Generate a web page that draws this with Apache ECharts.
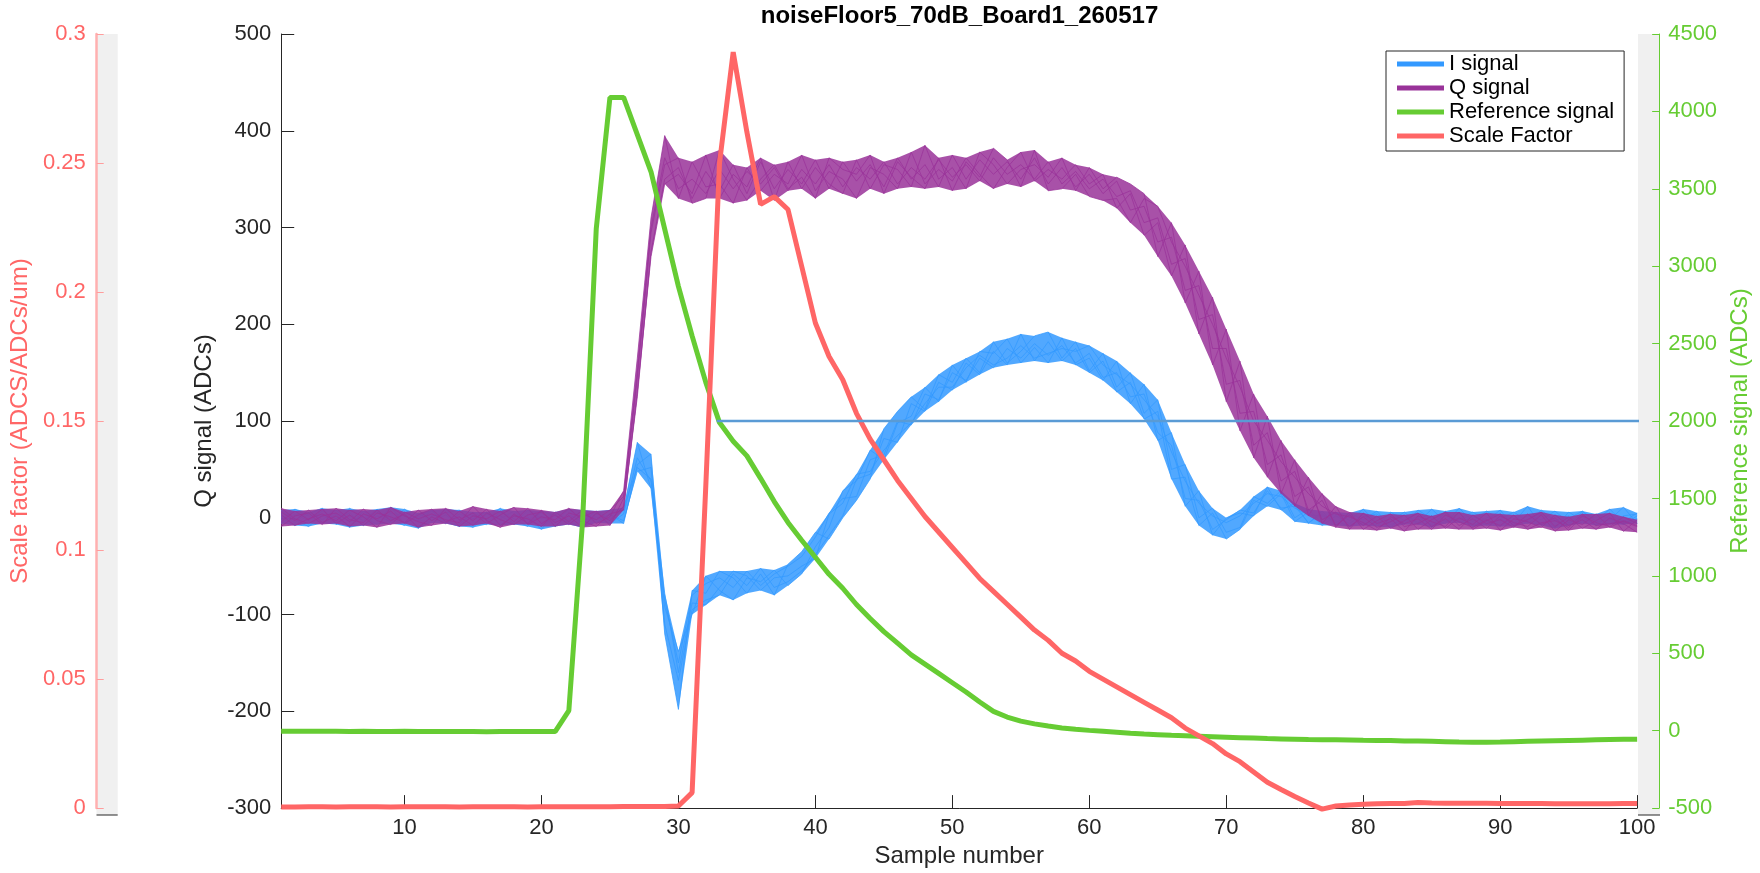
<!DOCTYPE html>
<html>
<head>
<meta charset="utf-8">
<title>noiseFloor5_70dB_Board1_260517</title>
<script src="https://cdn.jsdelivr.net/npm/echarts@6/dist/echarts.min.js"></script>
<style>
  html, body { margin: 0; padding: 0; background: #ffffff; }
  #chart { width: 1760px; height: 873px; }
</style>
</head>
<body>
<div id="chart"></div>
<script>
// ---------------- data ----------------
const xTickValues = [10, 20, 30, 40, 50, 60, 70, 80, 90, 100];

// I channel, five captures (samples 1..100)
const iTrace1 = [3,-5,6,-2,8,-4,1,-7,5,2,-3,7,-6,4,-1,6,-8,3,-2,5,-4,9,-3,1,-6,
  4,62,38,-85,-150,-80,-68,-62,-72,-55,-70,-58,-50,-40,-20,5,20,22,60,65,100,96,128,122,150,142,165,155,175,165,180,168,178,160,170,145,150,125,128,88,75,20,18,-12,-2,8,5,28,10,12,-5,4,
  -5,3,-8,1,-4,6,-7,2,-3,5,-9,0,4,-6,2,-2,7,-5,1,-8,3,-4,5];
const iTrace2 = [-6,4,-3,7,-1,5,-8,2,-4,9,-2,-5,3,-7,6,-3,2,-6,8,-1,4,-7,5,-2,3,
  -3,48,52,-110,-168,-95,-85,-80,-58,-70,-52,-72,-66,-55,-38,-18,2,40,45,82,78,118,110,140,132,160,148,172,158,190,162,182,162,175,150,162,130,140,102,110,40,42,-8,5,-22,-12,18,12,25,-4,6,-8,
  2,-6,4,-9,6,-3,1,-7,5,-2,3,-8,-1,6,-4,8,-3,2,-6,4,-1,-7,2];
const iTrace3 = [8,-2,-9,3,-5,10,-4,6,-1,-8,5,-3,9,-2,-10,4,-1,7,-5,2,-9,3,-4,7,-1,
  8,78,30,-92,-138,-100,-60,-75,-85,-62,-66,-54,-70,-58,-30,-10,28,38,70,60,98,105,135,120,158,140,172,170,185,160,176,160,186,158,165,142,162,118,138,80,88,12,28,-18,0,5,2,32,8,15,-6,7,
  -8,5,-2,7,-10,3,-5,9,-4,-1,6,-3,-9,2,-6,4,-2,-8,6,-3,9,-5,-1];
const iTrace4 = [-3,9,2,-6,4,-10,7,-3,11,-5,1,8,-4,-9,3,-2,10,-7,1,-12,6,-2,8,-5,4,
  -6,55,66,-120,-198,-75,-78,-55,-62,-78,-58,-80,-48,-35,-15,-22,0,18,40,92,110,125,112,148,140,165,150,182,160,172,188,192,165,182,152,170,135,150,108,122,50,55,0,10,-15,-10,22,15,28,0,9,-6,
  6,-3,9,-5,2,-7,8,-1,-6,10,-4,7,-2,-5,12,-8,3,-1,7,-4,-2,11,-6];
const iTrace5 = [1,-8,4,10,-7,2,-3,9,-6,4,-11,2,5,8,-4,-7,6,-1,-9,7,2,-5,-10,4,8,
  10,52,40,-78,-160,-88,-90,-72,-55,-60,-75,-62,-60,-50,-42,4,15,45,48,70,85,98,118,135,135,155,168,158,165,178,165,170,175,172,178,158,148,138,122,105,68,38,15,2,-5,2,15,25,22,10,3,2,
  -3,-9,1,4,-7,-2,5,-10,7,-5,1,-3,8,-9,-1,5,-11,6,-3,1,-7,2,4];

// Q channel, five captures (samples 1..100)
const qTrace1 = [-4,7,-2,9,-6,3,-8,5,1,-5,8,-3,6,-9,2,-1,7,-4,10,-6,3,-7,4,-2,8,
  22,150,300,372,340,350,335,360,340,358,345,362,338,360,345,365,342,362,350,368,345,362,350,370,352,365,348,372,355,365,350,368,345,358,340,350,332,338,305,310,262,268,205,210,138,142,75,88,38,48,8,18,-8,3,
  -8,2,-11,-3,5,-9,-1,-12,3,-6,-2,-10,4,-7,0,-13,2,-5,-9,1,-6];
const qTrace2 = [6,-3,8,-5,2,-9,4,-1,7,-6,3,9,-4,1,-8,5,-2,-7,3,6,-5,2,-10,5,-3,
  12,125,275,350,362,330,358,338,365,335,368,340,360,345,370,340,368,348,365,342,372,350,365,342,375,350,370,355,368,350,372,345,362,342,355,335,348,318,322,285,290,235,240,175,175,108,110,55,65,22,32,-2,6,-9,
  1,-10,-4,3,-12,-2,6,-8,-1,-11,2,-5,-9,3,-14,-2,-7,4,-10,-3,-8];
const qTrace3 = [-9,2,5,-7,10,-2,-5,8,-3,4,-10,1,-6,7,-3,9,-8,2,-1,-9,6,-4,8,-6,1,
  28,165,310,395,330,368,342,345,325,362,338,355,345,375,338,358,350,330,362,355,340,378,345,360,348,372,355,340,362,378,348,360,350,365,345,355,320,335,292,305,250,282,190,228,120,162,62,105,25,60,2,25,-10,6,
  -12,-3,4,-9,-6,2,-11,0,-7,5,-13,-1,-4,-10,3,-8,-2,-12,0,-6,-15];
const qTrace4 = [3,-8,-1,4,-3,8,1,-10,11,2,-4,-8,10,-2,5,-6,3,11,-7,1,-2,10,-3,-9,4,
  8,130,270,345,355,335,375,330,355,342,372,328,368,340,362,345,335,370,340,365,360,342,385,350,362,340,378,365,345,360,365,352,372,338,362,340,352,345,335,270,305,222,255,158,195,90,128,42,80,12,42,-6,12,-12,
  5,-6,-1,-14,2,-4,-9,6,-12,-3,4,-8,-2,6,-9,1,-11,-3,5,-14,-2];
const qTrace5 = [10,-1,-6,2,5,-4,9,-3,-7,6,-1,4,-2,-5,12,-3,-10,4,-6,8,-9,5,1,7,-8,
  20,145,295,365,372,325,330,380,350,328,350,365,340,352,330,372,360,355,375,335,368,352,340,372,338,368,352,382,370,342,380,338,340,355,332,328,330,305,330,322,285,260,230,200,165,135,100,80,58,42,25,12,4,1,
  -5,-13,1,-6,-1,-12,3,-4,-10,-2,-8,3,-12,-5,-3,-10,4,-8,-6,-4,-9];

// Reference channel (ADCs), samples 1..100
const referenceSignal = [-4,-3,-4,-3,-4,-5,-4,-5,-5,-4,-5,-6,-5,-6,-6,-7,-6,-6,-5,-6,-6,
  130,1350,3240,4090,4090,3850,3610,3240,2870,2550,2250,1990,1870,1775,1630,1480,1345,1230,1120,1010,
  920,815,725,640,565,490,430,370,310,250,185,125,88,62,44,30,18,9,2,-4,
  -10,-17,-22,-26,-30,-33,-36,-39,-42,-45,-48,-51,-53,-55,-57,-58,-59,-60,-62,-63,
  -64,-66,-67,-69,-71,-73,-74,-74,-73,-71,-69,-67,-65,-63,-61,-59,-57,-56,-55];

// Scale factor (ADCS/ADCs/um), samples 1..100
const scaleFactor = [0.0004,0.0004,0.0005,0.0005,0.0004,0.0005,0.0005,0.0005,0.0004,0.0005,
  0.0005,0.0005,0.0005,0.0004,0.0005,0.0005,0.0005,0.0005,0.0004,0.0005,
  0.0005,0.0005,0.0005,0.0005,0.0005,0.0006,0.0006,0.0006,0.0006,0.0008,
  0.006,0.125,0.250,0.293,0.262,0.234,0.237,0.232,0.210,0.188,
  0.175,0.166,0.153,0.143,0.135,0.127,0.120,0.113,0.107,0.101,
  0.095,0.089,0.084,0.079,0.074,0.069,0.065,0.060,0.057,0.053,
  0.050,0.047,0.044,0.041,0.038,0.035,0.031,0.028,0.025,0.021,
  0.018,0.014,0.010,0.0072,0.0045,0.0020,-0.0004,0.0008,0.0012,0.0015,
  0.0017,0.0018,0.0018,0.0022,0.0020,0.0019,0.0019,0.0019,0.0019,0.0018,
  0.0018,0.0018,0.0018,0.0017,0.0017,0.0017,0.0017,0.0017,0.0018,0.0018];

// Horizontal reference level on the Q scale and its sample span
const thresholdLevel = 100;
const thresholdSpan = [32.8, 101.2];

// ---------------- styling ----------------
const FONT = '"Liberation Sans", Arial, Helvetica, sans-serif';
const AXIS_GRAY = '#262626';
const C_I = '#3399ff';
const C_Q = '#993399';
const C_REF = '#66cc33';
const C_SF = '#ff6666';
const C_LEVEL = '#5a9bd5';

const iTraces = [iTrace1, iTrace2, iTrace3, iTrace4, iTrace5];
const qTraces = [qTrace1, qTrace2, qTrace3, qTrace4, qTrace5];
[...iTraces, ...qTraces, referenceSignal, scaleFactor].forEach((arr, k) => {
  if (arr.length !== 100) throw new Error('series ' + k + ' has ' + arr.length + ' samples');
});

const samples = referenceSignal.map((_, k) => k + 1);
const toPairs = values => values.map((v, k) => [samples[k], v]);

// envelope of a bundle of captures: lowest and highest capture at each sample
function envelopeRows(traces) {
  return samples.map((x, k) => {
    const col = traces.map(t => t[k]);
    return [x, Math.min(...col), Math.max(...col)];
  });
}

function bundleSeries(name, traces, color, zBand, zLines) {
  const lines = traces.map(t => ({
    name, type: 'line', data: toPairs(t), xAxisIndex: 0, yAxisIndex: 0,
    symbol: 'none', showSymbol: false, silent: true, z: zLines, color,
    lineStyle: { width: 1, color, opacity: 0.75 }
  }));
  const band = {
    name, type: 'custom', data: envelopeRows(traces), xAxisIndex: 0, yAxisIndex: 0,
    encode: { x: 0, y: [1, 2] }, silent: true, z: zBand, color,
    renderItem(params, api) {
      if (params.dataIndexInside !== 0) return null;
      const n = params.dataInsideLength;
      const upper = [], lower = [];
      for (let i = 0; i < n; i++) {
        upper.push(api.coord([api.value(0, i), api.value(2, i)]));
        lower.push(api.coord([api.value(0, i), api.value(1, i)]));
      }
      return {
        type: 'polygon',
        shape: { points: upper.concat(lower.reverse()) },
        style: { fill: color, opacity: 0.85 }
      };
    }
  };
  return [...lines, band];
}

const series = [
  ...bundleSeries('I signal', iTraces, C_I, 2, 3),
  ...bundleSeries('Q signal', qTraces, C_Q, 4, 5),
  { name: 'Reference signal', type: 'line', data: toPairs(referenceSignal), xAxisIndex: 0, yAxisIndex: 2,
    symbol: 'none', clip: false, z: 6, color: C_REF, lineStyle: { width: 5, color: C_REF } },
  { name: 'Scale Factor', type: 'line', data: toPairs(scaleFactor), xAxisIndex: 0, yAxisIndex: 1,
    symbol: 'none', clip: false, z: 7, color: C_SF, lineStyle: { width: 5, color: C_SF } },
  { name: 'level', type: 'line', data: thresholdSpan.map(x => [x, thresholdLevel]), xAxisIndex: 0, yAxisIndex: 0,
    symbol: 'none', clip: false, z: 8, silent: true, lineStyle: { width: 2.5, color: C_LEVEL } }
];

const GRID = { left: 281, top: 34, width: 1357, height: 781 };
const SIDE_LEFT = 96.5, SIDE_LEFT_W = 21.2, SIDE_RIGHT_W = 22;
const plainNumber = v => String(+v.toFixed(6));

const option = {
  animation: false,
  backgroundColor: '#ffffff',
  textStyle: { fontFamily: FONT },
  grid: GRID,
  legend: {
    orient: 'vertical', left: 1386, top: 51,
    padding: [1, 10, 3, 11], itemGap: 0, itemWidth: 47, itemHeight: 5, icon: 'rect',
    borderColor: AXIS_GRAY, borderWidth: 1, backgroundColor: '#ffffff',
    textStyle: { fontFamily: FONT, fontSize: 22, lineHeight: 24, color: '#000000' },
    selectedMode: false,
    data: [
      { name: 'I signal', itemStyle: { color: C_I } },
      { name: 'Q signal', itemStyle: { color: C_Q } },
      { name: 'Reference signal', itemStyle: { color: C_REF } },
      { name: 'Scale Factor', itemStyle: { color: C_SF } }
    ]
  },
  xAxis: {
    type: 'value', min: 1, max: 100,
    name: 'Sample number', nameLocation: 'middle', nameGap: 30,
    nameTextStyle: { fontSize: 24, color: AXIS_GRAY, fontFamily: FONT },
    axisLine: { show: true, onZero: false, lineStyle: { color: AXIS_GRAY, width: 1 } },
    axisTick: { show: true, inside: true, length: 13, customValues: xTickValues, lineStyle: { color: AXIS_GRAY } },
    axisLabel: { customValues: xTickValues, fontSize: 22, color: AXIS_GRAY, margin: 9, fontFamily: FONT },
    splitLine: { show: false }
  },
  yAxis: [
    { type: 'value', position: 'left', min: -300, max: 500, interval: 100,
      name: 'Q signal (ADCs)', nameLocation: 'middle', nameGap: 60,
      nameTextStyle: { fontSize: 24, color: AXIS_GRAY, fontFamily: FONT },
      axisLine: { show: true, onZero: false, lineStyle: { color: AXIS_GRAY, width: 1 } },
      axisTick: { show: true, inside: true, length: 13, lineStyle: { color: AXIS_GRAY } },
      axisLabel: { fontSize: 22, color: AXIS_GRAY, margin: 10, fontFamily: FONT, formatter: plainNumber },
      splitLine: { show: false } },
    { type: 'value', position: 'left', offset: GRID.left - SIDE_LEFT, min: 0, max: 0.3, interval: 0.05,
      name: 'Scale factor (ADCS/ADCs/um)', nameLocation: 'middle', nameGap: 59,
      nameTextStyle: { fontSize: 24, color: C_SF, fontFamily: FONT },
      axisLine: { show: true, onZero: false, lineStyle: { color: '#ffb0b0', width: 2.5 } },
      axisTick: { show: true, inside: true, length: 7, lineStyle: { color: '#ff9d9d' } },
      axisLabel: { fontSize: 22, color: C_SF, margin: 11, fontFamily: FONT, formatter: plainNumber },
      splitLine: { show: false } },
    { type: 'value', position: 'right', offset: SIDE_RIGHT_W, min: -500, max: 4500, interval: 500,
      name: 'Reference signal (ADCs)', nameLocation: 'middle', nameGap: 59,
      nameTextStyle: { fontSize: 24, color: C_REF, fontFamily: FONT },
      axisLine: { show: true, onZero: false, lineStyle: { color: C_REF, width: 1 } },
      axisTick: { show: true, inside: true, length: 7, lineStyle: { color: C_REF } },
      axisLabel: { fontSize: 22, color: C_REF, margin: 9, fontFamily: FONT, formatter: plainNumber },
      splitLine: { show: false } }
  ],
  graphic: [
    // side panels that carry the extra y axes
    { type: 'rect', z: -1, silent: true,
      shape: { x: SIDE_LEFT, y: GRID.top, width: SIDE_LEFT_W, height: GRID.height },
      style: { fill: '#f0f0f0' } },
    { type: 'rect', z: -1, silent: true,
      shape: { x: GRID.left + GRID.width, y: GRID.top, width: SIDE_RIGHT_W, height: GRID.height },
      style: { fill: '#f0f0f0' } },
    { type: 'line', z: 1, silent: true,
      shape: { x1: SIDE_LEFT, y1: GRID.top + GRID.height, x2: SIDE_LEFT + SIDE_LEFT_W, y2: GRID.top + GRID.height },
      style: { stroke: AXIS_GRAY, lineWidth: 1 } },
    { type: 'line', z: 1, silent: true,
      shape: { x1: GRID.left + GRID.width, y1: GRID.top + GRID.height, x2: GRID.left + GRID.width + SIDE_RIGHT_W, y2: GRID.top + GRID.height },
      style: { stroke: AXIS_GRAY, lineWidth: 1 } },
    { type: 'text', z: 10, silent: true, x: GRID.left + GRID.width / 2, y: 16,
      style: { text: 'noiseFloor5_70dB_Board1_260517', fontFamily: FONT, fontSize: 24, fontWeight: 'bold',
               fill: '#000000', align: 'center', verticalAlign: 'middle' } }
  ],
  series
};

const chart = echarts.init(document.getElementById('chart'), null, { renderer: 'canvas' });
chart.setOption(option);
</script>
</body>
</html>
